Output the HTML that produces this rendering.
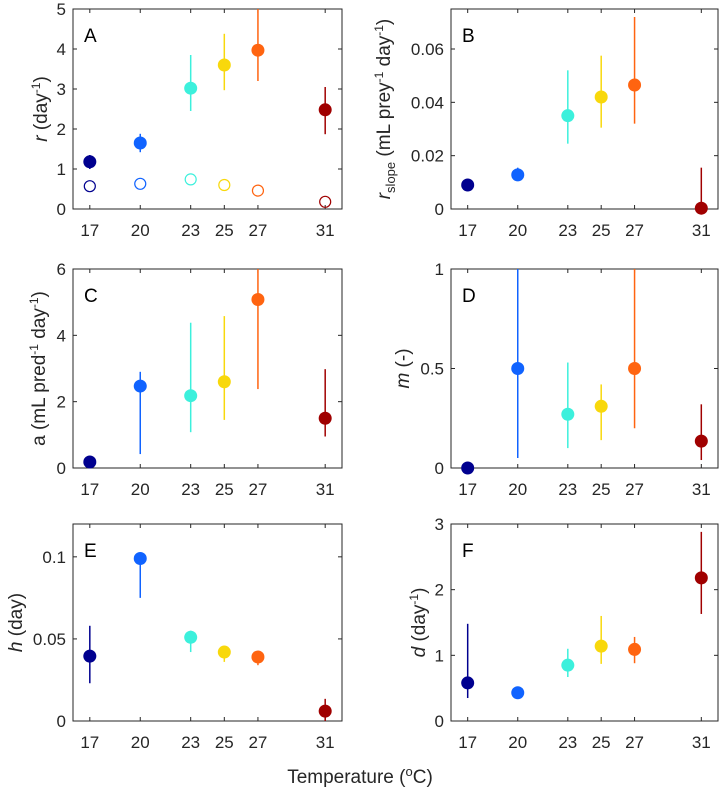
<!DOCTYPE html>
<html><head><meta charset="utf-8"><style>
html,body{margin:0;padding:0;background:#fff;}
svg{display:block;font-family:"Liberation Sans",Arial,sans-serif;}
</style></head><body>
<svg id="fig" width="720" height="788" viewBox="0 0 720 788" xmlns="http://www.w3.org/2000/svg">
<text x="360" y="783" text-anchor="middle" font-size="19" fill="#262626">Temperature (<tspan dy="-7" font-size="13">o</tspan><tspan dy="7">C)</tspan></text>
</svg>
<script>
const temps = [17, 20, 23, 25, 27, 31];
const colors = ['#00008f', '#1063ff', '#3cf0dc', '#f8d80c', '#ff6410', '#a00000'];
const xTicks = ['17', '20', '23', '25', '27', '31'];
// Panel A
const aVal = [1.18, 1.65, 3.02, 3.6, 3.97, 2.48];
const aLo = [1.0, 1.42, 2.45, 2.97, 3.2, 1.87];
const aHi = [1.35, 1.88, 3.85, 4.38, 5.0, 3.05];
const aOpen = [0.57, 0.63, 0.74, 0.6, 0.46, 0.18];
const aTicks = [0, 1, 2, 3, 4, 5];
// Panel B
const bVal = [0.009, 0.0128, 0.035, 0.042, 0.0465, 0.0003];
const bLo = [0.007, 0.0105, 0.0245, 0.0305, 0.032, 0];
const bHi = [0.011, 0.0155, 0.052, 0.0575, 0.072, 0.0155];
const bTicks = [0, 0.02, 0.04, 0.06];
// Panel C
const cVal = [0.18, 2.47, 2.18, 2.6, 5.08, 1.5];
const cLo = [0.1, 0.42, 1.08, 1.45, 2.38, 0.95];
const cHi = [0.25, 2.9, 4.38, 4.58, 6, 2.98];
const cTicks = [0, 2, 4, 6];
// Panel D
const dVal = [0, 0.5, 0.27, 0.31, 0.5, 0.135];
const dLo = [0, 0.05, 0.1, 0.14, 0.2, 0.04];
const dHi = [0, 1, 0.53, 0.42, 1, 0.32];
const dTicks = [0, 0.5, 1];
// Panel E
const eVal = [0.0395, 0.099, 0.051, 0.042, 0.039, 0.006];
const eLo = [0.023, 0.075, 0.042, 0.036, 0.034, 0];
const eHi = [0.058, 0.101, 0.055, 0.043, 0.04, 0.0135];
const eTicks = [0, 0.05, 0.1];
// Panel F
const fVal = [0.58, 0.43, 0.85, 1.14, 1.09, 2.18];
const fLo = [0.35, 0.4, 0.67, 0.87, 0.88, 1.63];
const fHi = [1.48, 0.46, 1.1, 1.6, 1.28, 2.88];
const fTicks = [0, 1, 2, 3];

const NS = 'http://www.w3.org/2000/svg';
const svg = document.getElementById('fig');
function mk(tag, attrs, parent) {
  const e = document.createElementNS(NS, tag);
  for (const k in attrs) e.setAttribute(k, attrs[k]);
  (parent || svg).appendChild(e);
  return e;
}
function panel(o) {
  const g = mk('g', {});
  
  
  const xs = v => o.l + (v - 16) / 16 * (o.r - o.l);
  const ys = v => o.b - (v - 0) / o.ymax * (o.b - o.t);
  const frame = mk('rect', {x: o.l, y: o.t, width: o.r - o.l, height: o.b - o.t, fill: 'none', stroke: '#262626', 'stroke-width': 1}, g);
  
  
  temps.forEach((t, i) => {
    const x = xs(t);
    mk('line', {x1: x, x2: x, y1: o.b, y2: o.b - 4, stroke: '#262626'}, g);
    mk('line', {x1: x, x2: x, y1: o.t, y2: o.t + 4, stroke: '#262626'}, g);
    const tl = mk('text', {x: x, y: o.b + 27, 'text-anchor': 'middle', 'font-size': 17, fill: '#262626'}, g);
    tl.textContent = xTicks[i];
    
    
  });
  o.ticks.forEach(v => {
    const y = ys(v);
    mk('line', {x1: o.l, x2: o.l + 4, y1: y, y2: y, stroke: '#262626'}, g);
    mk('line', {x1: o.r, x2: o.r - 4, y1: y, y2: y, stroke: '#262626'}, g);
    const tl = mk('text', {x: o.l - 7, y: y + 6, 'text-anchor': 'end', 'font-size': 17, fill: '#262626'}, g);
    tl.textContent = String(v);
    
    
  });
  const lt = mk('text', {x: o.l + 11, y: o.t + 33, 'font-size': 19, fill: '#000'}, g);
  lt.textContent = o.letter;
  
  
  const yl = mk('text', {x: 0, y: 0, transform: `translate(${o.lx + 7},${(o.t + o.b) / 2}) rotate(-90)`, 'text-anchor': 'middle', 'font-size': 19, fill: '#262626'}, g);
  yl.innerHTML = o.ylabel;
  
  
  if (o.open) o.open.forEach((v, i) => {
    const c = mk('circle', {cx: xs(temps[i]), cy: ys(v), r: 5.5, fill: 'none', stroke: colors[i], 'stroke-width': 1.2}, g);
    
    
  });
  o.val.forEach((v, i) => {
    const x = xs(temps[i]);
    const eb = mk('line', {x1: x, x2: x, y1: ys(o.lo[i]), y2: ys(o.hi[i]), stroke: colors[i], 'stroke-width': 1.5}, g);
    
    
    const c = mk('circle', {cx: x, cy: ys(v), r: 6.5, fill: colors[i]}, g);
    
    
  });
}
const L1 = 73, R1 = 342, L2 = 451, R2 = 718;
const sup = s => `<tspan dy="-7" font-size="12">${s}</tspan><tspan dy="7">`;
panel({letter: 'A', l: L1, r: R1, t: 9, b: 209, lx: 40, ymax: 5, ticks: aTicks, val: aVal, lo: aLo, hi: aHi, open: aOpen,
  ylabel: `<tspan font-style="italic">r</tspan> (day${sup('-1')})</tspan>`});
panel({letter: 'B', l: L2, r: R2, t: 9, b: 209, lx: 383, ymax: 0.075, ticks: bTicks, val: bVal, lo: bLo, hi: bHi,
  ylabel: `<tspan font-style="italic">r</tspan><tspan dy="5" font-size="13">slope</tspan><tspan dy="-5"> (mL prey</tspan>${sup('-1')} day</tspan>${sup('-1')})</tspan>`});
panel({letter: 'C', l: L1, r: R1, t: 269, b: 468, lx: 38, ymax: 6, ticks: cTicks, val: cVal, lo: cLo, hi: cHi,
  ylabel: `a (mL pred${sup('-1')} day</tspan>${sup('-1')})</tspan>`});
panel({letter: 'D', l: L2, r: R2, t: 269, b: 468, lx: 402, ymax: 1, ticks: dTicks, val: dVal, lo: dLo, hi: dHi,
  ylabel: `<tspan font-style="italic">m</tspan> (-)`});
panel({letter: 'E', l: L1, r: R1, t: 524, b: 721, lx: 15, ymax: 0.12, ticks: eTicks, val: eVal, lo: eLo, hi: eHi,
  ylabel: `<tspan font-style="italic">h</tspan> (day)`});
panel({letter: 'F', l: L2, r: R2, t: 524, b: 721, lx: 418, ymax: 3, ticks: fTicks, val: fVal, lo: fLo, hi: fHi,
  ylabel: `<tspan font-style="italic">d</tspan> (day${sup('-1')})</tspan>`});
</script>
</body></html>
